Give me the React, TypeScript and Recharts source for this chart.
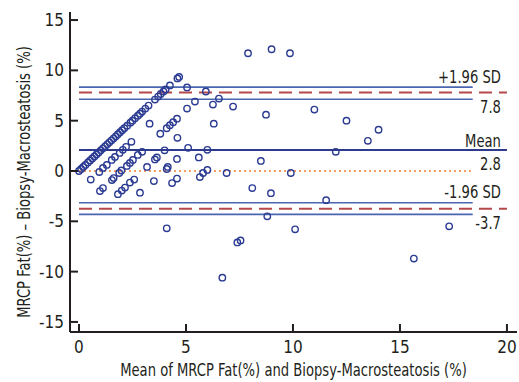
import {
  ScatterChart,
  Scatter,
  XAxis,
  YAxis,
  ReferenceLine,
  Label,
} from "recharts";

// Bland-Altman points: mean of the two methods, and their difference.
const meanValues = [
  0, 0.1, 0.2, 0.3, 0.42, 0.52, 0.62, 0.72, 0.82, 0.92, 1.02, 1.12, 1.22, 1.32, 1.42, 1.52,
  1.62, 1.72, 1.82, 1.92, 2.02, 2.12, 2.25, 2.4, 2.5, 2.62, 2.75, 2.85, 2.95, 3.1, 3.25, 3.55,
  3.7, 3.82, 3.95, 4.05, 4.25, 4.6, 4.68,
  0.55, 0.95, 1.12, 1.3, 1.53, 1.68, 1.9, 2.05, 2.2, 2.45, 3.3, 5.05,
  0.98, 1.12, 1.54, 1.62, 1.88, 1.98, 2.24, 2.38, 2.52, 2.75, 2.95, 3.8, 4.1, 4.25, 4.4, 4.58,
  5.05, 5.42, 5.93,
  1.82, 2.0, 2.15, 2.38, 2.58, 3.18, 3.55, 3.64, 4.0, 4.6, 6.26, 6.54,
  2.85, 3.5, 4.1, 4.15, 4.58, 5.1, 6.3, 7.2,
  4.35, 4.58, 5.6, 6.0,
  5.65, 5.8, 6.0, 6.9, 8.74, 8.1, 8.97, 8.5, 4.1, 8.8, 7.4, 7.55, 6.7,
  11.0, 12.5, 14.0, 13.5, 12.0, 9.9, 11.55, 10.1, 17.3, 15.65, 7.9, 9.0, 9.86,
];
const diffValues = [
  0, 0.2, 0.4, 0.6, 0.85, 1.05, 1.25, 1.45, 1.65, 1.85, 2.05, 2.25, 2.45, 2.65, 2.85, 3.05,
  3.25, 3.45, 3.65, 3.85, 4.05, 4.25, 4.5, 4.8, 5.0, 5.25, 5.5, 5.7, 5.9, 6.2, 6.5, 7.1,
  7.4, 7.65, 7.9, 8.1, 8.5, 9.2, 9.35,
  -0.85, -0.1, 0.3, 0.6, 1.1, 1.4, 1.8, 2.1, 2.4, 2.9, 4.7, 8.3,
  -2.0, -1.7, -0.9, -0.7, -0.2, 0.05, 0.5, 0.8, 1.1, 1.6, 1.9, 3.7, 4.25, 4.55, 4.85, 5.2,
  6.2, 6.9, 7.9,
  -2.3, -1.95, -1.65, -1.15, -0.85, 0.4, 1.15, 1.35, 2.05, 3.3, 6.6, 7.2,
  -2.15, -1.0, 0.2, 0.4, 1.2, 2.3, 4.7, 6.4,
  -1.2, -0.75, 1.35, 2.1,
  -0.6, -0.2, 0.1, -0.2, 5.6, -1.7, -2.2, 1.0, -5.7, -4.5, -7.1, -6.9, -10.6,
  6.1, 5.0, 4.1, 3.0, 1.9, -0.2, -2.9, -5.8, -5.5, -8.7, 11.7, 12.1, 11.7,
];

const xTicks = [0, 5, 10, 15, 20];
const yTicks = [-15, -10, -5, 0, 5, 10, 15];

const meanDiff = 2.09;
const upperLoA = 7.8;
const lowerLoA = -3.75;
const upperCI = [8.33, 7.13];
const lowerCI = [-3.15, -4.31];
const shortLineEnd = 18.4;
const longLineEnd = 20;

const data = meanValues.map((m, i) => ({ mean: m, diff: diffValues[i] }));

const FONT = "'DejaVu Sans Condensed', 'Liberation Sans Narrow', sans-serif";
const INK = "#231f20";
const SQUEEZE = 0.86; // the original uses a narrow face

function XTick(props: any) {
  const { x, y, payload } = props;
  return (
    <g>
      <line x1={x} y1={y} x2={x} y2={y - 8} stroke={INK} strokeWidth={2} />
      <text x={x} y={y + 21} textAnchor="middle" fontSize={17} fontFamily={FONT} fill={INK}>
        {payload.value}
      </text>
    </g>
  );
}

function YTick(props: any) {
  const { x, y, payload } = props;
  return (
    <g>
      <line x1={x} y1={y} x2={x + 8} y2={y} stroke={INK} strokeWidth={2} />
      <text x={x - 6} y={y + 6} textAnchor="end" fontSize={17} fontFamily={FONT} fill={INK}>
        {payload.value}
      </text>
    </g>
  );
}

// right-aligned annotation sitting above (dy<0) or below (dy>0) a reference line
const sideLabel = (text: string, dy: number) => (props: any) => {
  const vb = props.viewBox;
  const x = vb.x + vb.width - 6;
  const y = vb.y + dy;
  return (
    <g transform={`translate(${x},${y}) scale(${SQUEEZE},1)`}>
      <text x={0} y={0} textAnchor="end" fontSize={17} fontFamily={FONT} fill={INK}>
        {text}
      </text>
    </g>
  );
};

function Ring(props: any) {
  const { cx, cy } = props;
  return <circle cx={cx} cy={cy} r={3.2} fill="none" stroke="#2b3a92" strokeWidth={1.4} />;
}

const seg = (y: number, end: number) => [
  { x: 0, y },
  { x: end, y },
];

export default function App() {
  return (
    <div style={{ position: "absolute", left: 0, top: 0, width: 519, height: 382, background: "#fff" }}>
      <ScatterChart width={519} height={382} margin={{ top: 12, right: 2, bottom: 0, left: 0 }}>
        <XAxis
          type="number"
          dataKey="mean"
          domain={[-0.42, 20.47]}
          ticks={xTicks}
          tick={<XTick />}
          tickLine={false}
          tickSize={0}
          tickMargin={0}
          height={50}
          axisLine={{ stroke: INK, strokeWidth: 2 }}
          allowDataOverflow
        >
          <Label
            content={(p: any) => (
              <g
                transform={`translate(${p.viewBox.x + p.viewBox.width / 2},${p.viewBox.y + 44}) scale(${SQUEEZE},1)`}
              >
                <text x={0} y={0} textAnchor="middle" fontSize={17} fontFamily={FONT} fill={INK}>
                  Mean of MRCP Fat(%) and Biopsy-Macrosteatosis (%)
                </text>
              </g>
            )}
          />
        </XAxis>
        <YAxis
          type="number"
          dataKey="diff"
          domain={[-16, 15.8]}
          ticks={yTicks}
          tick={<YTick />}
          tickLine={false}
          tickSize={0}
          tickMargin={0}
          width={70}
          axisLine={{ stroke: INK, strokeWidth: 2 }}
          allowDataOverflow
        >
          <Label
            content={(p: any) => {
              const cx = p.viewBox.x + 24;
              const cy = p.viewBox.y + p.viewBox.height / 2 + 10;
              return (
                <g transform={`translate(${cx},${cy}) rotate(-90) scale(${SQUEEZE},1)`}>
                  <text
                    x={0}
                    y={0}
                    textAnchor="middle"
                    dominantBaseline="central"
                    fontSize={17}
                    fontFamily={FONT}
                    fill={INK}
                  >
                    MRCP Fat(%) – Biopsy-Macrosteatosis (%)
                  </text>
                </g>
              );
            }}
          />
        </YAxis>

        <ReferenceLine segment={seg(0, shortLineEnd)} stroke="#f07b2c" strokeWidth={1.5} strokeDasharray="2 3" />
        {upperCI.concat(lowerCI).map((v) => (
          <ReferenceLine key={v} segment={seg(v, shortLineEnd)} stroke="#4a66b0" strokeWidth={1.6} />
        ))}
        <ReferenceLine segment={seg(upperLoA, longLineEnd)} stroke="#b5484b" strokeWidth={2} strokeDasharray="13 7">
          <Label content={sideLabel("+1.96 SD", -10)} />
          <Label content={sideLabel("7.8", 20)} />
        </ReferenceLine>
        <ReferenceLine segment={seg(lowerLoA, longLineEnd)} stroke="#b5484b" strokeWidth={2} strokeDasharray="13 7">
          <Label content={sideLabel("-1.96 SD", -11)} />
          <Label content={sideLabel("-3.7", 20)} />
        </ReferenceLine>
        <ReferenceLine segment={seg(meanDiff, longLineEnd)} stroke="#2e3a8c" strokeWidth={2}>
          <Label content={sideLabel("Mean", -3)} />
          <Label content={sideLabel("2.8", 20)} />
        </ReferenceLine>

        <Scatter data={data} shape={<Ring />} isAnimationActive={false} />
      </ScatterChart>
    </div>
  );
}
